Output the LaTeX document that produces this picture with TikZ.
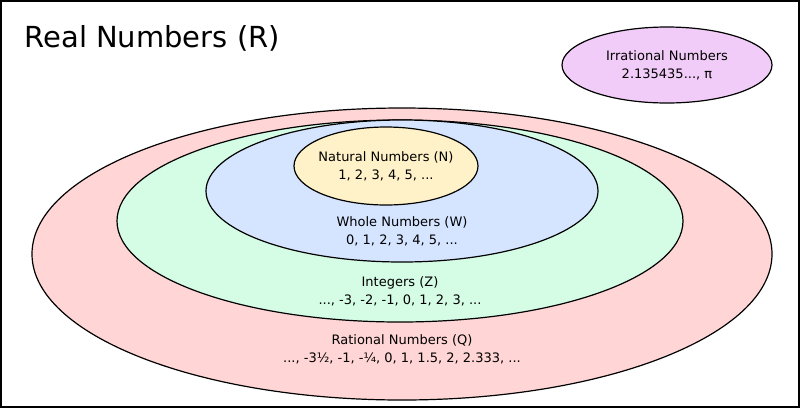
\documentclass[tikz,border=0pt]{standalone}
\usepackage{fontspec}
\setmainfont{DejaVu Sans}
\usetikzlibrary{shapes.geometric}
\definecolor{ratfill}{HTML}{FFD5D5}
\definecolor{intfill}{HTML}{D5FCE5}
\definecolor{wholefill}{HTML}{D5E5FF}
\definecolor{natfill}{HTML}{FFF2C8}
\definecolor{irrfill}{HTML}{F2CCF8}
\tikzset{
  setoval/.style={ellipse, draw=black, line width=1.2pt, inner sep=0pt},
  setlabel/.style={align=center, font=\fontsize{13}{18}\selectfont}
}
\begin{document}
\begin{tikzpicture}[x=1pt, y=-1pt]
	\draw [line width=2pt] (1,1) rectangle (799,407);
	\useasboundingbox (0,0) rectangle (800,408);
	\node (title) [anchor=west, font=\fontsize{29}{33}\selectfont] at (21,38) {Real Numbers (R)};

	\node (irr) [setoval, fill=irrfill, minimum width=210pt, minimum height=76pt] at (667,65) {};
	\node (irrtxt) [setlabel] at (667,65) {Irrational Numbers\\2.135435..., π};

	\node (rat) [setoval, fill=ratfill, minimum width=740pt, minimum height=292pt] at (402,254) {};
	\node (int) [setoval, fill=intfill, minimum width=566pt, minimum height=202pt] at (400,221) {};
	\node (whole) [setoval, fill=wholefill, minimum width=392pt, minimum height=142pt] at (402,191) {};
	\node (nat) [setoval, fill=natfill, minimum width=184pt, minimum height=78pt] at (386,166) {};

	\node (nattxt) [setlabel] at (386,166) {Natural Numbers (N)\\1, 2, 3, 4, 5, ...};
	\node (wholetxt) [setlabel] at (402,231) {Whole Numbers (W)\\0, 1, 2, 3, 4, 5, ...};
	\node (inttxt) [setlabel] at (400,291) {Integers (Z)\\..., -3, -2, -1, 0, 1, 2, 3, ...};
	\node (rattxt) [setlabel] at (402,349) {Rational Numbers (Q)\\..., -3½, -1, -¼, 0, 1, 1.5, 2, 2.333, ...};
\end{tikzpicture}
\end{document}
